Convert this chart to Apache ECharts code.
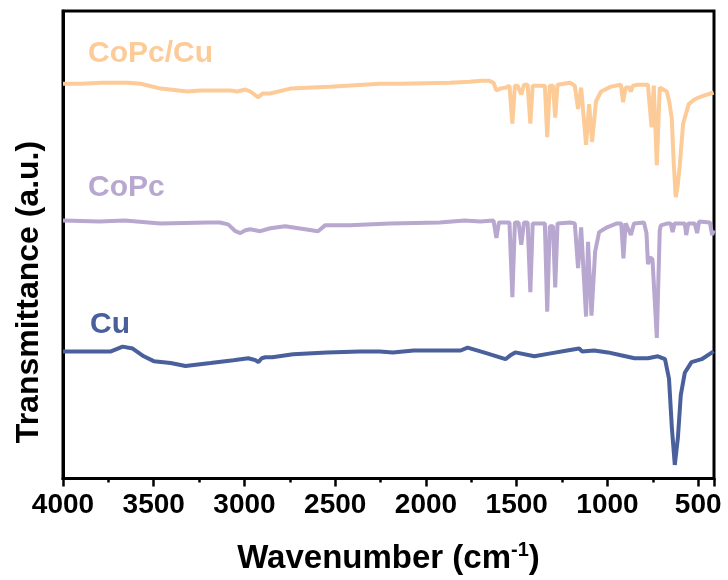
<!DOCTYPE html>
<html>
<head>
    <meta charset="utf-8"/>
    <title>FTIR</title>
    <script src="https://cdn.jsdelivr.net/npm/echarts@6/dist/echarts.min.js"></script>
    <style>
        html, body {margin: 0; padding: 0; background: #fff;}
        #chart {width: 728px; height: 580px;}
    </style>
</head>
<body>
<div id="chart"></div>
<script>
    // wavenumbers (cm-1) and transmittance (a.u., offset)
    var copcCuWn = [4000, 3900, 3790, 3643, 3572, 3462, 3314, 3242, 3078, 3039, 2995, 2968, 2924, 2900, 2858, 2748, 2529, 2254, 2144, 1870,
        1760, 1694, 1650, 1628, 1612, 1590, 1560, 1540, 1524, 1510, 1495, 1475, 1460, 1440, 1425, 1412, 1360, 1345, 1332, 1318,
        1300, 1288, 1275, 1206, 1180, 1162, 1145, 1118, 1101, 1085, 1063, 1035, 981, 926, 914, 900, 880, 871, 860, 832,
        790, 777, 768, 757, 745, 728, 712, 673, 660, 646, 635, 624, 613, 602, 583, 552, 519, 481, 415];
    var copcCuVal = [413, 413, 414, 414, 413, 408, 405, 406, 406, 405, 407, 405, 399, 403, 403, 408, 410, 413, 413, 414,
        415, 416, 416, 414, 406, 408, 409, 411, 372, 411, 411, 402, 412, 412, 372, 411, 411, 411, 358, 411,
        411, 378, 412, 414, 411, 387, 409, 350, 392, 353, 395, 405, 410, 412, 394, 409, 409, 405, 411, 412,
        412, 412, 392, 368, 411, 329, 409, 405, 395, 378, 332, 296, 308, 328, 372, 392, 397, 400, 404];

    var copcWn = [4000, 3800, 3660, 3462, 3200, 3135, 3090, 3050, 3023, 2995, 2968, 2913, 2858, 2776, 2666, 2595, 2556, 2419, 2199, 1925,
        1787, 1700, 1628, 1612, 1598, 1540, 1524, 1510, 1490, 1475, 1460, 1440, 1425, 1412, 1360, 1345, 1332, 1318, 1300, 1288,
        1275, 1206, 1180, 1162, 1145, 1118, 1107, 1088, 1068, 1046, 1002, 948, 924, 912, 900, 871, 854, 799, 785, 777,
        765, 752, 728, 712, 706, 668, 652, 641, 630, 574, 566, 555, 519, 506, 495, 436, 423, 415];
    var copcVal = [272, 271, 272, 269, 270, 270, 268, 261, 259, 262, 263, 261, 264, 266, 263, 261, 267, 267, 269, 270,
        272, 271, 272, 254, 270, 270, 193, 270, 270, 247, 270, 270, 198, 269, 269, 269, 178, 266, 266, 203,
        269, 270, 269, 223, 265, 173, 250, 174, 240, 260, 265, 269, 269, 233, 269, 257, 269, 270, 259, 227,
        234, 232, 151, 262, 267, 269, 269, 260, 269, 269, 257, 269, 269, 259, 271, 270, 257, 262];

    var cuWn = [4000, 3736, 3671, 3616, 3555, 3500, 3407, 3325, 3187, 3061, 2979, 2940, 2924, 2905, 2885, 2847, 2732, 2545, 2364, 2254,
        2183, 2067, 1809, 1771, 1700, 1628, 1562, 1535, 1508, 1403, 1313, 1222, 1156, 1140, 1129, 1074, 997, 926, 851, 777,
        722, 683, 661, 645, 629, 612, 596, 574, 537, 481, 415];
    var cuVal = [137, 137, 142, 140, 132, 127, 125, 122, 125, 128, 130, 128, 126, 130, 131, 131, 134, 136, 137, 137,
        136, 138, 138, 141, 137, 133, 129, 133, 136, 132, 135, 138, 140, 137, 136, 138, 136, 133, 130, 130,
        132, 129, 109, 58, 20, 48, 92, 115, 126, 129, 137];

    var names = ['CoPc/Cu', 'CoPc', 'Cu'];
    var colors = ['#fdcb98', '#b8a7cf', '#4a609c'];

    function pairs(wn, val) {
        // x axis runs on negative wavenumber so that 4000 sits on the left
        return wn.map(function (w, i) { return [-w, val[i]]; });
    }

    var chart = echarts.init(document.getElementById('chart'), null, {renderer: 'canvas'});
    var font = 'Liberation Sans, Arial, sans-serif';

    var option = {
        animation: false,
        grid: {left: 63, right: 14, top: 11, bottom: 87, show: true, borderColor: '#000', borderWidth: 3},
        xAxis: {
            type: 'value',
            min: -4000,
            max: -413,
            interval: 500,
            axisLine: {lineStyle: {color: '#000', width: 3}},
            axisTick: {inside: false, length: 8, lineStyle: {color: '#000', width: 2.5}},
            minorTick: {show: true, splitNumber: 2, length: 4, lineStyle: {color: '#000', width: 2.5}},
            splitLine: {show: false},
            axisLabel: {
                color: '#000', fontSize: 28, fontWeight: 'bold', fontFamily: font, margin: 13,
                showMaxLabel: false,
                formatter: function (v) { return Math.abs(v); }
            },
            name: '{a|Wavenumber (cm}{s|-1}{a|)}',
            nameLocation: 'middle',
            nameGap: 62,
            nameTextStyle: {
                rich: {
                    a: {fontSize: 33, fontWeight: 'bold', color: '#000', fontFamily: font},
                    s: {fontSize: 20, fontWeight: 'bold', color: '#000', fontFamily: font, padding: [0, 0, 16, 0]}
                }
            }
        },
        yAxis: {
            type: 'value',
            min: 6,
            max: 488,
            axisLine: {show: true, lineStyle: {color: '#000', width: 3}},
            axisTick: {show: false},
            axisLabel: {show: false},
            splitLine: {show: false}
        },
        series: [
            {name: names[0], type: 'line', data: pairs(copcCuWn, copcCuVal), showSymbol: false, lineStyle: {width: 4, color: colors[0]}},
            {name: names[1], type: 'line', data: pairs(copcWn, copcVal), showSymbol: false, lineStyle: {width: 4, color: colors[1]}},
            {name: names[2], type: 'line', data: pairs(cuWn, cuVal), showSymbol: false, lineStyle: {width: 4, color: colors[2]}}
        ],
        graphic: [
            {type: 'text', x: 29, y: 292, rotation: Math.PI / 2,
                style: {text: 'Transmittance (a.u.)', fill: '#000', fontSize: 32, fontWeight: 'bold', fontFamily: font,
                    align: 'center', verticalAlign: 'middle'}},
            {type: 'text', left: 88, top: 39, style: {text: names[0], fill: colors[0], fontSize: 30, fontWeight: 'bold', fontFamily: font}},
            {type: 'text', left: 88, top: 173, style: {text: names[1], fill: colors[1], fontSize: 30, fontWeight: 'bold', fontFamily: font}},
            {type: 'text', left: 90, top: 310, style: {text: names[2], fill: colors[2], fontSize: 30, fontWeight: 'bold', fontFamily: font}}
        ]
    };
    chart.setOption(option);
</script>
</body>
</html>
